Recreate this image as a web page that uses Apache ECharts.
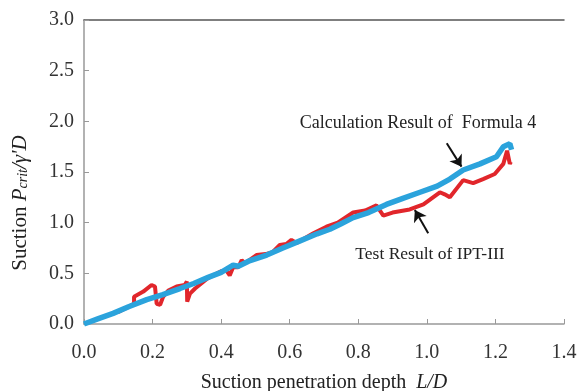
<!DOCTYPE html>
<html>
<head>
<meta charset="utf-8">
<script src="https://cdn.jsdelivr.net/npm/echarts@6/dist/echarts.min.js"></script>
<style>
  html, body { margin: 0; padding: 0; background: #fff; }
  #chart { width: 577px; height: 391px; }
</style>
</head>
<body>
<div id="chart"></div>
<script>
  // calculation result of formula 4 (blue)
  var calcData = [
    [0, 0], [0.04, 0.05], [0.085, 0.105], [0.13, 0.17], [0.183, 0.24], [0.23, 0.29],
    [0.28, 0.35], [0.32, 0.40], [0.362, 0.46], [0.40, 0.51], [0.435, 0.58], [0.45, 0.57],
    [0.48, 0.62], [0.533, 0.68], [0.58, 0.75], [0.63, 0.82], [0.68, 0.89], [0.717, 0.935],
    [0.75, 0.99], [0.785, 1.05], [0.83, 1.10], [0.882, 1.18], [0.93, 1.24], [0.98, 1.30],
    [1.03, 1.36], [1.067, 1.43], [1.106, 1.52], [1.155, 1.58], [1.203, 1.65], [1.223, 1.75],
    [1.242, 1.78], [1.247, 1.72]
  ]
  // test result of IPT-III (red)
  var testData = [
    [0.10, 0.12], [0.125, 0.16], [0.146, 0.20], [0.146, 0.27], [0.173, 0.32], [0.197, 0.385],
    [0.207, 0.37], [0.212, 0.20], [0.222, 0.19], [0.231, 0.27], [0.246, 0.33], [0.27, 0.37],
    [0.294, 0.385], [0.30, 0.42], [0.301, 0.22], [0.309, 0.30], [0.324, 0.35], [0.36, 0.45],
    [0.40, 0.52], [0.415, 0.53], [0.425, 0.48], [0.435, 0.56], [0.45, 0.56], [0.46, 0.63],
    [0.47, 0.60], [0.503, 0.68], [0.53, 0.69], [0.55, 0.71], [0.571, 0.78], [0.59, 0.79],
    [0.605, 0.83], [0.62, 0.80], [0.669, 0.896], [0.707, 0.96], [0.74, 1.00], [0.785, 1.10],
    [0.82, 1.12], [0.853, 1.17], [0.873, 1.07], [0.90, 1.10], [0.95, 1.13], [0.99, 1.18],
    [1.018, 1.25], [1.038, 1.30], [1.052, 1.28], [1.067, 1.25], [1.106, 1.42], [1.135, 1.39],
    [1.164, 1.43], [1.198, 1.48], [1.223, 1.58], [1.234, 1.71], [1.242, 1.58], [1.245, 1.60]
  ]
  // arrows pointing at the curves, [from, to]
  var calcArrow = [[1.058, 1.784], [1.101, 1.553]]
  var testArrow = [[1.004, 0.895], [0.965, 1.125]]

  var xTicks = [0, 0.2, 0.4, 0.6, 0.8, 1.0, 1.2, 1.4]
  var yTicks = [0, 0.5, 1.0, 1.5, 2.0, 2.5, 3.0]

  var font = 'Liberation Serif'
  var chart = echarts.init(document.getElementById('chart'))

  function arrowLine(pair) {
    return [{coord: pair[0]}, {coord: pair[1]}]
  }

  chart.setOption({
    animation: false,
    grid: {left: 84, right: 13, top: 20, bottom: 67, outerBoundsMode: 'none', containLabel: false},
    xAxis: [{
      type: 'value',
      min: xTicks[0],
      max: xTicks[xTicks.length - 1],
      interval: 0.2,
      axisLine: {lineStyle: {color: '#999', width: 1.5}},
      axisTick: {inside: true, length: 5, lineStyle: {color: '#999'}},
      splitLine: {show: false},
      axisLabel: {
        fontFamily: font, fontSize: 20, color: '#333', margin: 19,
        formatter: function (v) { return v.toFixed(1) }
      },
      name: 'Suction penetration depth  {i|L/D}',
      nameLocation: 'middle',
      nameGap: 49,
      nameTextStyle: {
        fontFamily: font, fontSize: 20, color: '#222',
        rich: {i: {fontFamily: font, fontSize: 20, fontStyle: 'italic', color: '#222'}}
      }
    }, {
      type: 'value',
      position: 'top',
      min: 0, max: 1.4,
      axisLine: {show: true, lineStyle: {color: '#555', width: 1.5}},
      axisTick: {show: false},
      axisLabel: {show: false},
      splitLine: {show: false}
    }],
    yAxis: {
      type: 'value',
      min: yTicks[0],
      max: yTicks[yTicks.length - 1],
      interval: 0.5,
      axisLine: {show: true, lineStyle: {color: '#999', width: 1.5}},
      axisTick: {show: true, inside: true, length: 5, lineStyle: {color: '#999'}},
      splitLine: {show: false},
      axisLabel: {
        fontFamily: font, fontSize: 20, color: '#333', margin: 10,
        formatter: function (v) { return v.toFixed(1) }
      }
    },
    graphic: [{
      type: 'text',
      x: 20, y: 203,
      rotation: Math.PI / 2,
      style: {
        text: '{a|Suction }{i|P}{s|crit}{i|/γ\'D}',
        align: 'center',
        verticalAlign: 'middle',
        rich: {
          a: {fontFamily: font, fontSize: 21, fill: '#222'},
          i: {fontFamily: font, fontSize: 21, fontStyle: 'italic', fill: '#222'},
          s: {fontFamily: font, fontSize: 14, fontStyle: 'italic', fill: '#222', verticalAlign: 'bottom', padding: [7, 0, 0, 0]}
        }
      }
    }, {
      type: 'text',
      x: 418, y: 123,
      style: {
        text: 'Calculation Result of  Formula 4',
        fontFamily: font, fontSize: 18, fill: '#222',
        align: 'center', verticalAlign: 'middle'
      }
    }, {
      type: 'text',
      x: 430, y: 254,
      style: {
        text: 'Test Result of IPT-III',
        fontFamily: font, fontSize: 17.5, fill: '#222',
        align: 'center', verticalAlign: 'middle'
      }
    }],
    series: [{
      type: 'line',
      data: testData,
      showSymbol: false,
      lineStyle: {color: '#e1262b', width: 4},
      z: 2,
      markLine: {
        silent: true,
        symbol: ['none', 'arrow'],
        symbolSize: 11,
        label: {show: false},
        lineStyle: {color: '#111', width: 2, type: 'solid'},
        data: [arrowLine(calcArrow), arrowLine(testArrow)]
      }
    }, {
      type: 'line',
      data: calcData,
      showSymbol: false,
      lineStyle: {color: '#2ba3dc', width: 5.5},
      z: 3
    }]
  })
</script>
</body>
</html>
